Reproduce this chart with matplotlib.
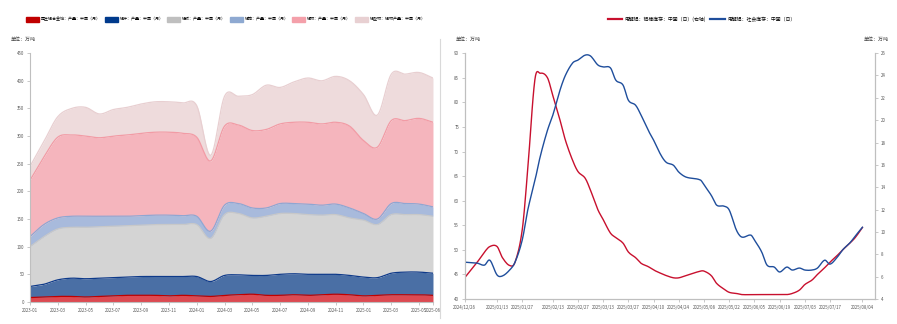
import numpy as np
import matplotlib
matplotlib.use("Agg")
import matplotlib.pyplot as plt
import matplotlib.dates as mdates
from matplotlib.patches import Patch
from matplotlib.lines import Line2D
import datetime as dt

plt.rcParams['font.family'] = ['Noto Sans CJK SC', 'DejaVu Sans']

# ---------------- data: left chart (monthly, 万吨) ----------------
months = ["2023-01","2023-02","2023-03","2023-04","2023-05","2023-06","2023-07","2023-08",
          "2023-09","2023-10","2023-11","2023-12","2024-01","2024-02","2024-03","2024-04",
          "2024-05","2024-06","2024-07","2024-08","2024-09","2024-10","2024-11","2024-12",
          "2025-01","2025-02","2025-03","2025-04","2025-05","2025-06"]
s_red   = [8,9,10,10,9,10,11,12,12,12,11,12,11,10,12,13,14,12,12,13,12,13,14,13,11,12,13,13,13,12]
s_dblue = [20,23,30,33,33,33,33,33,34,34,35,34,35,27,36,36,34,36,38,38,38,37,36,35,34,32,39,41,41,40]
s_gray  = [72,86,92,92,93,93,93,93,93,94,94,94,94,78,110,111,104,107,110,109,108,107,108,104,103,96,106,104,104,103]
s_lblue = [18,22,20,20,20,19,18,17,17,17,17,16,15,13,17,18,18,15,18,18,19,18,19,18,12,10,20,20,19,17]
s_pink  = [102,122,146,147,145,142,145,147,149,150,150,149,143,127,143,142,140,142,144,147,148,147,148,148,132,130,150,150,155,153]
s_lpink = [25,28,37,48,52,43,48,50,53,55,55,55,57,10,54,52,65,80,66,73,80,78,83,82,83,58,84,84,83,80]
left_names = ["再生铝合金锭：产量：中国（月）", "铝杆：产量：中国（月）", "铝板：产量：中国（月）",
              "铝箔：产量：中国（月）", "铝材：产量：中国（月）", "铝型材：铝材产量：中国（月）"]
left_ticks = ["2023-01","2023-03","2023-05","2023-07","2023-09","2023-11","2024-01","2024-03",
              "2024-05","2024-07","2024-09","2024-11","2025-01","2025-03","2025-05","2025-06"]

# ---------------- data: right chart (万吨) ----------------
r_dates = ["2024-12-26","2025-01-02","2025-01-06","2025-01-09","2025-01-13","2025-01-16","2025-01-20",
           "2025-01-23","2025-01-27","2025-01-30","2025-02-03","2025-02-06","2025-02-10","2025-02-13",
           "2025-02-17","2025-02-20","2025-02-24","2025-02-27","2025-03-03","2025-03-06","2025-03-10",
           "2025-03-13","2025-03-17","2025-03-20","2025-03-24","2025-03-27","2025-03-31","2025-04-03",
           "2025-04-07","2025-04-10","2025-04-14","2025-04-17","2025-04-21","2025-04-24","2025-04-28",
           "2025-05-06","2025-05-08","2025-05-12","2025-05-15","2025-05-19","2025-05-22","2025-05-26",
           "2025-05-29","2025-06-03","2025-06-05","2025-06-09","2025-06-12","2025-06-16","2025-06-19",
           "2025-06-23","2025-06-26","2025-06-30","2025-07-03","2025-07-07","2025-07-10","2025-07-14",
           "2025-07-17","2025-07-21","2025-07-24","2025-07-28","2025-07-31","2025-08-04"]
blue_vals = [47.5,47.3,46.9,47.9,44.9,44.7,45.9,47.5,52.0,58.0,64.0,69.0,74.3,77.4,82.5,85.5,88.0,88.6,
             89.6,89.4,87.6,87.2,87.0,84.5,83.5,80.4,79.4,77.4,74.3,72.3,69.3,67.8,67.2,65.8,64.8,
             64.2,63.2,61.1,59.1,58.9,58.1,54.0,52.6,53.0,52.0,49.6,46.9,46.5,45.5,46.5,45.9,46.3,
             45.9,45.9,46.3,47.9,47.1,48.5,50.0,51.4,52.8,54.6]
red_vals = [5.9,7.3,8.2,8.7,8.7,7.7,7.0,7.3,10.2,15.5,23.6,24.2,23.8,22.2,20.0,18.2,16.4,15.4,14.8,
            13.7,12.0,11.1,9.9,9.5,9.0,8.2,7.7,7.2,6.9,6.6,6.3,6.1,5.9,5.9,6.1,6.5,6.5,6.1,5.4,
            4.9,4.6,4.5,4.4,4.4,4.4,4.4,4.4,4.4,4.4,4.4,4.5,4.8,5.3,5.7,6.2,6.8,7.3,7.9,8.4,9.0,9.5,10.4]
right_names = ["电解铝：铝棒库存：中国（日）(右轴)", "电解铝：社会库存：中国（日）"]
right_ticks = ["2024-12-26","2025-01-13","2025-01-27","2025-02-13","2025-02-27","2025-03-13",
               "2025-03-27","2025-04-10","2025-04-24","2025-05-08","2025-05-22","2025-06-05",
               "2025-06-19","2025-07-03","2025-07-17","2025-08-04"]


def smooth(x, y, n=12):
    x = np.asarray(x, float); y = np.asarray(y, float)
    m = np.zeros_like(y)
    m[1:-1] = (y[2:] - y[:-2]) / (x[2:] - x[:-2])
    m[0] = (y[1] - y[0]) / (x[1] - x[0]); m[-1] = (y[-1] - y[-2]) / (x[-1] - x[-2])
    xs, ys = [], []
    for i in range(len(x) - 1):
        h = x[i + 1] - x[i]
        t = np.linspace(0, 1, n, endpoint=False)
        h00 = 2*t**3 - 3*t**2 + 1; h10 = t**3 - 2*t**2 + t
        h01 = -2*t**3 + 3*t**2; h11 = t**3 - t**2
        xs.append(x[i] + t*h)
        ys.append(h00*y[i] + h10*h*m[i] + h01*y[i+1] + h11*h*m[i+1])
    xs.append([x[-1]]); ys.append([y[-1]])
    return np.concatenate(xs), np.concatenate(ys)


fig = plt.figure(figsize=(8.97, 3.24), dpi=100)
spine_c = '#BFBFBF'
tick_c = '#595959'
TS = 3.2
LS = 2.9

# ---------------- left chart ----------------
ax1 = fig.add_axes([0.0334, 0.068, 0.4493, 0.768])
xi = np.arange(len(months))
series = [s_red, s_dblue, s_gray, s_lblue, s_pink, s_lpink]
fills = ['#DC4A52', '#4A6FA5', '#D4D4D4', '#A8BADC', '#F5B5BD', '#EEDBDC']
lines = ['#C00000', '#0E3A8A', '#C8C8C8', '#8FA6D2', '#F29BA5', '#E8CFD1']
legc = ['#C00000', '#003A8C', '#BFBFBF', '#8EA9D1', '#F4A0AA', '#E8D0D2']
cum = np.zeros(len(months))
prev_s = None
for vals, fc, lc in zip(series, fills, lines):
    top = cum + np.array(vals, float)
    xs, ys_top = smooth(xi, top)
    ys_bot = np.zeros_like(ys_top) if prev_s is None else prev_s
    ax1.fill_between(xs, ys_bot, ys_top, color=fc, lw=0)
    ax1.plot(xs, ys_top, color=lc, lw=0.9)
    prev_s = ys_top
    cum = top
ax1.set_xlim(0, len(months) - 1)
ax1.set_ylim(0, 450)
ax1.set_yticks(np.arange(0, 451, 50))
ax1.set_xticks([months.index(m) for m in left_ticks])
ax1.set_xticklabels(left_ticks)
for s in ['top', 'right']:
    ax1.spines[s].set_visible(False)
for s in ['left', 'bottom']:
    ax1.spines[s].set_color(spine_c); ax1.spines[s].set_linewidth(0.8)
ax1.tick_params(axis='both', labelsize=TS, colors=spine_c, labelcolor=tick_c, length=2.5, width=0.6, pad=1.5)
fig.text(0.012, 0.875, "单位：万吨", fontsize=3.6, color='#404040')
handles = [Patch(facecolor=c, edgecolor=c) for c in legc]
fig.legend(handles, left_names, loc='center', bbox_to_anchor=(0.252, 0.94), ncol=6, fontsize=LS,
           frameon=False, handlelength=3.2, handleheight=1.3, columnspacing=0.9, handletextpad=0.5)

# separator
fig.add_artist(Line2D([0.4905, 0.4905], [0.02, 0.88], color='#D9D9D9', lw=0.8, transform=fig.transFigure))

# ---------------- right chart ----------------
ax2 = fig.add_axes([0.518, 0.077, 0.4575, 0.759])
ax3 = ax2.twinx()
dts = [dt.datetime.strptime(d, "%Y-%m-%d") for d in r_dates]
xn = mdates.date2num(dts)
bx, by = smooth(xn, blue_vals, 8)
rx, ry = smooth(xn, red_vals, 8)
ax3.plot(rx, ry, color='#C8102E', lw=1.0)
ax2.plot(bx, by, color='#1F4E9C', lw=1.0)
ax2.set_zorder(ax3.get_zorder() + 1); ax2.patch.set_visible(False)
x0 = mdates.date2num(dt.datetime(2024, 12, 26)); x1 = mdates.date2num(dt.datetime(2025, 8, 11))
ax2.set_xlim(x0, x1)
ax2.set_ylim(40, 90); ax2.set_yticks(np.arange(40, 91, 5))
ax3.set_ylim(4, 26); ax3.set_yticks(np.arange(4, 27, 2))
tpos = [mdates.date2num(dt.datetime.strptime(d, "%Y-%m-%d")) for d in right_ticks]
ax2.set_xticks(tpos)
ax2.set_xticklabels([d.replace('-', '/') for d in right_ticks])
for a in (ax2, ax3):
    a.spines['top'].set_visible(False)
    for s in ['left', 'right', 'bottom']:
        a.spines[s].set_color(spine_c); a.spines[s].set_linewidth(0.8)
    a.tick_params(axis='both', labelsize=TS, colors=spine_c, labelcolor=tick_c, length=2.5, width=0.6, pad=1.5)
fig.text(0.508, 0.875, "单位：万吨", fontsize=3.6, color='#404040')
fig.text(0.963, 0.875, "单位：万吨", fontsize=3.6, color='#404040')
rh = [Line2D([0], [0], color='#C8102E', lw=1.6), Line2D([0], [0], color='#1F4E9C', lw=1.6)]
fig.legend(rh, right_names, loc='center', bbox_to_anchor=(0.782, 0.94), ncol=2, fontsize=3.5,
           frameon=False, handlelength=3.0, columnspacing=0.8, handletextpad=0.5)

fig.savefig("out.png", dpi=100)
